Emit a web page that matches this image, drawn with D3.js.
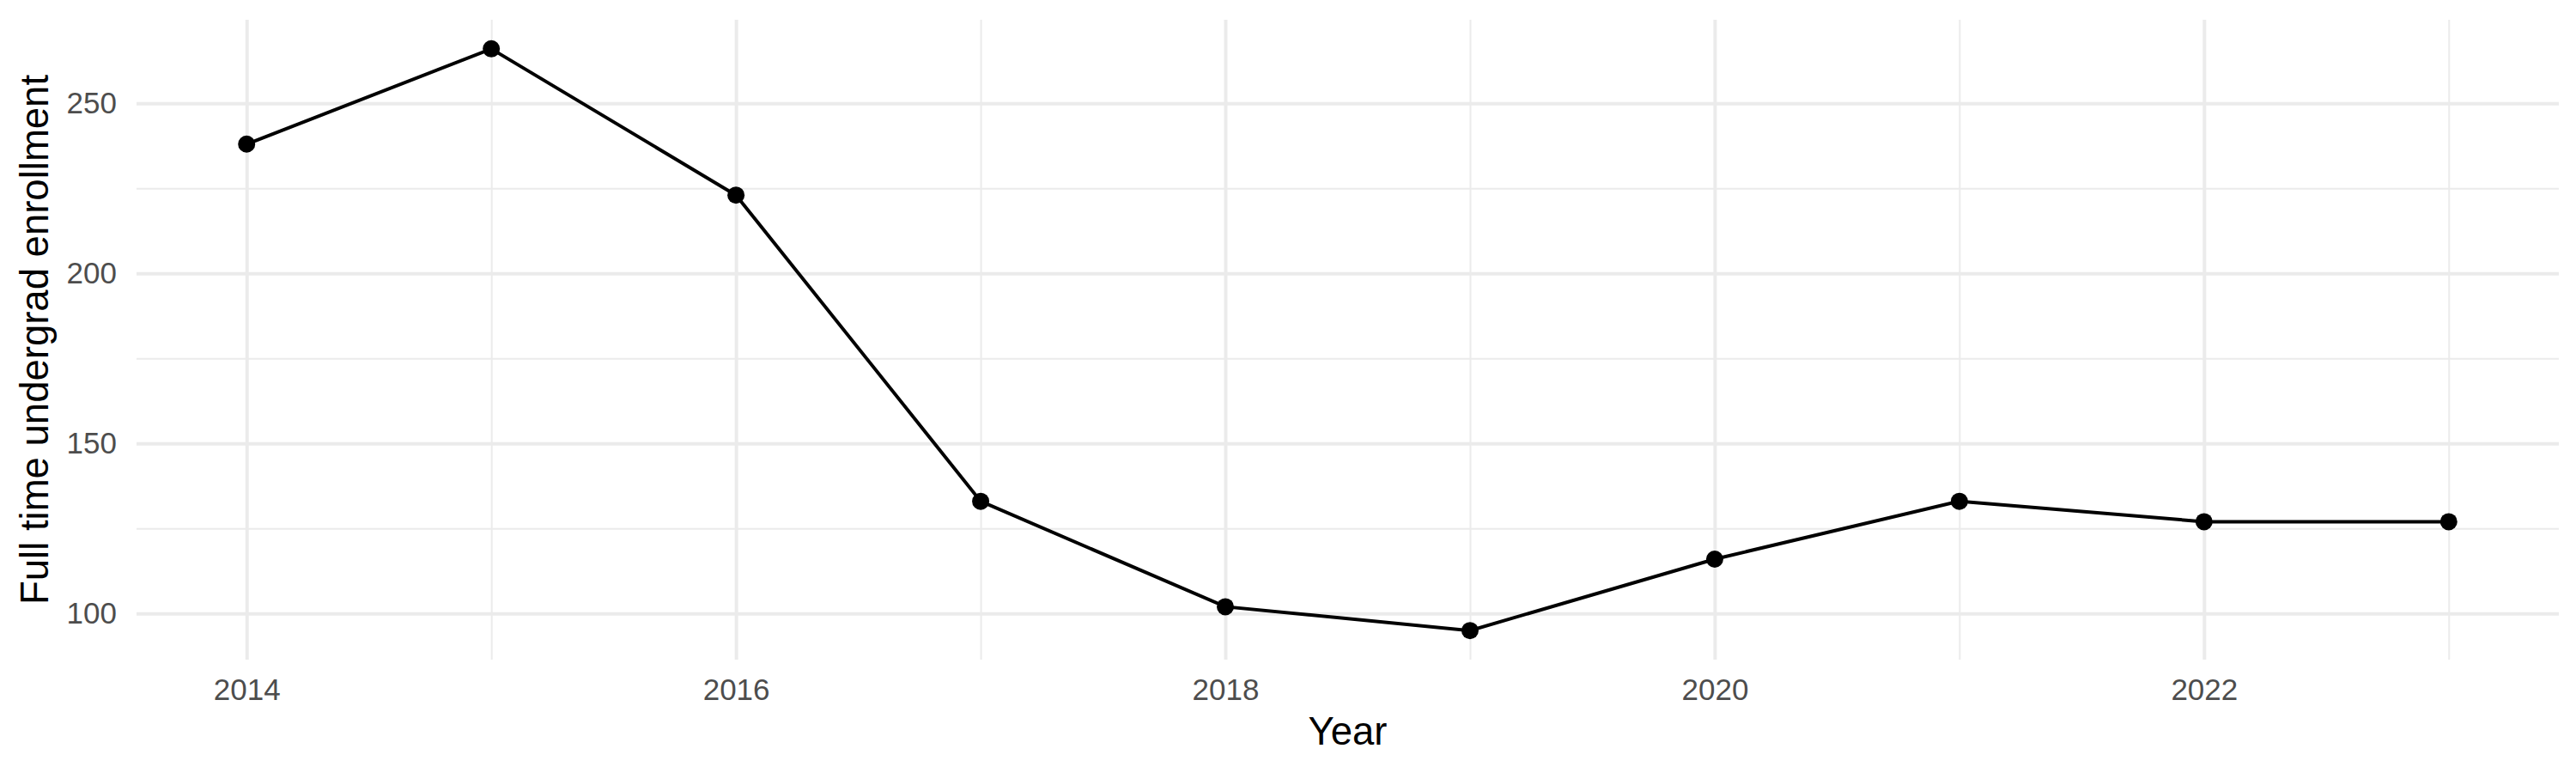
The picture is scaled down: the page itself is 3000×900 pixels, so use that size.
<!DOCTYPE html>
<html>
<head>
<meta charset="utf-8">
<script src="https://cdn.jsdelivr.net/npm/d3@7"></script>
<style>
  body { margin: 0; background: #fff; }
  svg { display: block; }
  .tick text { font-family: "Liberation Sans", Arial, sans-serif; }
</style>
</head>
<body>
<svg></svg>
<script>
// data
let years = [2014, 2015, 2016, 2017, 2018, 2019, 2020, 2021, 2022, 2023]
let enrollment = [238, 266, 223, 133, 102, 95, 116, 133, 127, 127]

let xMajorTicks = [2014, 2016, 2018, 2020, 2022]
let xMinorTicks = [2015, 2017, 2019, 2021, 2023]
let yMajorTicks = [100, 150, 200, 250]
let yMinorTicks = [125, 175, 225]

let xTitle = "Year"
let yTitle = "Full time undergrad enrollment"

let width = 3000
let height = 900
let panelLeft = 159, panelRight = 2980, panelTop = 23, panelBottom = 768

let svg = d3.select('svg').attr("width", width).attr("height", height)

// ggplot style 5% expansion
let minX = d3.min(years), maxX = d3.max(years)
let minY = d3.min(enrollment), maxY = d3.max(enrollment)
let padX = (maxX - minX) * 0.05
let padY = (maxY - minY) * 0.05

let xScale = d3.scaleLinear().domain([minX - padX, maxX + padX]).range([panelLeft, panelRight])
let yScale = d3.scaleLinear().domain([minY - padY, maxY + padY]).range([panelBottom, panelTop])

let grid = svg.append("g")

let drawGrid = (xt, yt, w) => {
    grid.append("g")
        .attr("transform", "translate(0," + panelBottom + ")")
        .call(d3.axisBottom(xScale).tickValues(xt).tickSize(-(panelBottom - panelTop)).tickFormat(""))
        .call(g => g.select(".domain").remove())
        .call(g => g.selectAll("line").attr("stroke", "#ebebeb").attr("stroke-width", w))
    grid.append("g")
        .attr("transform", "translate(" + panelLeft + ",0)")
        .call(d3.axisLeft(yScale).tickValues(yt).tickSize(-(panelRight - panelLeft)).tickFormat(""))
        .call(g => g.select(".domain").remove())
        .call(g => g.selectAll("line").attr("stroke", "#ebebeb").attr("stroke-width", w))
}
drawGrid(xMinorTicks, yMinorTicks, 2)
drawGrid(xMajorTicks, yMajorTicks, 4)

// axes labels
svg.append("g").attr("id", "x-axis")
    .attr("transform", "translate(0," + panelBottom + ")")
    .call(d3.axisBottom(xScale).tickValues(xMajorTicks).tickFormat(d3.format("d")).tickSize(0).tickPadding(22))
    .call(g => g.select(".domain").remove())
    .call(g => g.selectAll("text").attr("fill", "#4d4d4d").attr("font-size", 35))

svg.append("g").attr("id", "y-axis")
    .attr("transform", "translate(" + panelLeft + ",0)")
    .call(d3.axisLeft(yScale).tickValues(yMajorTicks).tickSize(0).tickPadding(23))
    .call(g => g.select(".domain").remove())
    .call(g => g.selectAll("text").attr("fill", "#4d4d4d").attr("font-size", 35))

// line + points
let line = d3.line().x((d, i) => xScale(years[i])).y(d => yScale(d))
svg.append("path")
    .datum(enrollment)
    .attr("d", line)
    .attr("fill", "none")
    .attr("stroke", "#000")
    .attr("stroke-width", 4)

svg.selectAll("circle")
    .data(enrollment)
    .enter()
    .append("circle")
    .attr("cx", (d, i) => xScale(years[i]))
    .attr("cy", d => yScale(d))
    .attr("r", 10)
    .attr("fill", "#000")

// titles
svg.append("text")
    .attr("x", (panelLeft + panelRight) / 2)
    .attr("y", 867)
    .attr("text-anchor", "middle")
    .attr("font-family", "Liberation Sans, Arial, sans-serif")
    .attr("font-size", 45.5)
    .text(xTitle)

svg.append("text")
    .attr("transform", "translate(56," + ((panelTop + panelBottom) / 2) + ") rotate(-90)")
    .attr("text-anchor", "middle")
    .attr("font-family", "Liberation Sans, Arial, sans-serif")
    .attr("font-size", 45.5)
    .text(yTitle)
</script>
</body>
</html>
